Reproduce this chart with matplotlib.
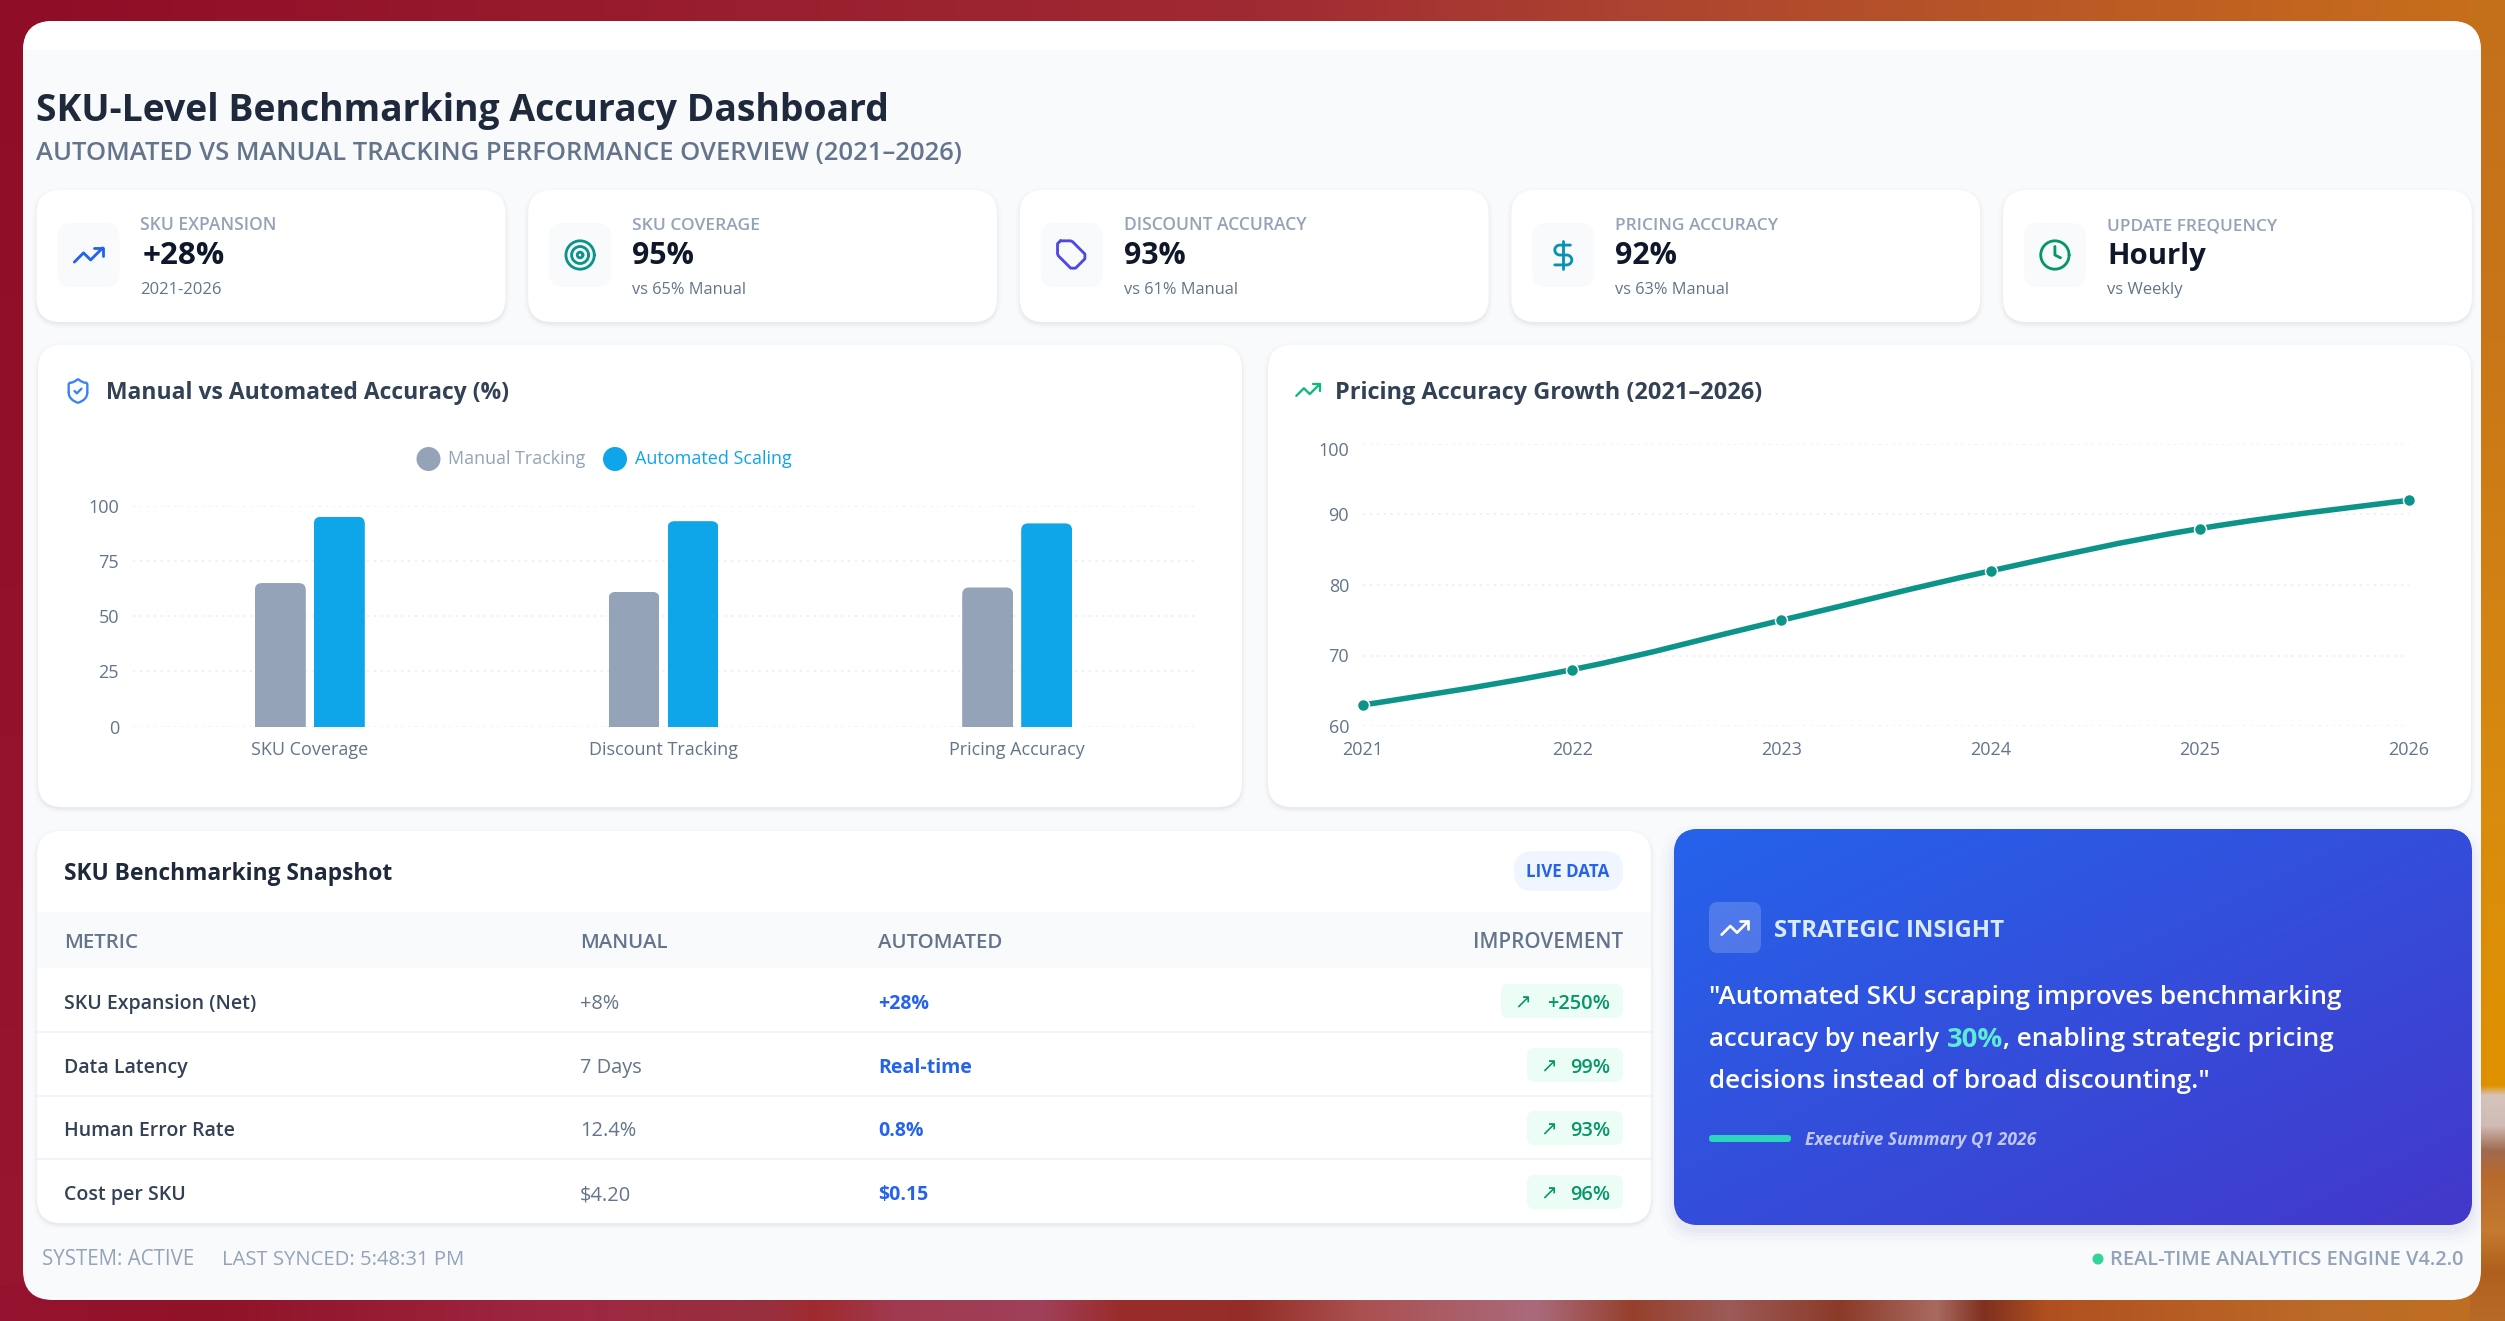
import numpy as np
import matplotlib
matplotlib.use("Agg")
import matplotlib.pyplot as plt
from matplotlib.patches import FancyBboxPatch, Rectangle, Circle, PathPatch
from matplotlib.path import Path
from matplotlib.transforms import IdentityTransform, ScaledTranslation

plt.rcParams['font.family'] = ['Open Sans', 'DejaVu Sans']

# data
categories = ["SKU Coverage", "Discount Tracking", "Pricing Accuracy"]
manual = [65, 61, 63]
automated = [95, 93, 92]
years = [2021, 2022, 2023, 2024, 2025, 2026]
pricing = [63, 68, 75, 82, 88, 92]

kpi_labels = ["SKU EXPANSION", "SKU COVERAGE", "DISCOUNT ACCURACY", "PRICING ACCURACY", "UPDATE FREQUENCY"]
kpi_values = ["+28%", "95%", "93%", "92%", "Hourly"]
kpi_notes = ["2021-2026", "vs 65% Manual", "vs 61% Manual", "vs 63% Manual", "vs Weekly"]
kpi_icons = ["trend", "target", "tag", "dollar", "clock"]
kpi_colors = ["#2563eb", "#0d9488", "#4f46e5", "#0891b2", "#059669"]

table_head = ["METRIC", "MANUAL", "AUTOMATED", "IMPROVEMENT"]
table_metric = ["SKU Expansion (Net)", "Data Latency", "Human Error Rate", "Cost per SKU"]
table_manual = ["+8%", "7 Days", "12.4%", "$4.20"]
table_auto = ["+28%", "Real-time", "0.8%", "$0.15"]
table_gain = ["+250%", "99%", "93%", "96%"]

W, H = 2505, 1321
fig = plt.figure(figsize=(W / 100, H / 100), dpi=100)
ax = fig.add_axes([0, 0, 1, 1], zorder=0)
ax.set_axis_off()


def hexs(cols):
    return np.array([matplotlib.colors.to_rgb(c) for c in cols])


def ramp(stops, cols, n):
    c = hexs(cols)
    return np.stack([np.interp(np.arange(n), stops, c[:, i]) for i in range(3)], axis=1)


# background strips, only the edges show behind the panel
bg = np.zeros((H, W, 3))
bg[:, :] = ramp([0, 1250, 1650, 2505], ["#8f0d27", "#a02a33", "#ad4430", "#c8701a"], W)
bg[:, :40] = ramp([0, 1321], ["#8f0d27", "#971630"], H)[:, None, :]
right = ramp([0, 340, 810, 1085, 1095, 1125, 1150, 1175, 1230, 1270, 1321],
             ["#c4701c", "#c97619", "#d98c0e", "#e09200", "#d6c4bc", "#d0bcb4", "#a06a50", "#b86a2c",
              "#c47a30", "#b0601c", "#b86a28"], H)
bg[:, 2470:] = right[:, None, :]
bottom = ramp(np.array([0, 130, 350, 480, 510, 560, 650, 700, 780, 850, 960, 1020, 1080, 1150, 1210, 1240, 1280, 1450, 1568]) * 1.6,
              ["#96122f", "#901228", "#9e2740", "#98303f", "#a02a2e", "#a03a50", "#a0405a", "#9a2c2c", "#942e28",
               "#aa5050", "#aa6a7c", "#96402c", "#9c5a58", "#8c3a28", "#a86a60", "#80301f", "#b05020", "#bc6a28",
               "#c07020"], W)
bg[1285:, :2470] = bottom[:2470][None, :, :]
ax.imshow(bg, extent=[0, W, H, 0], aspect='auto', zorder=0)
ax.set_xlim(0, W)
ax.set_ylim(H, 0)


def box(x0, y0, x1, y1, r, fc, z=1, **kw):
    p = FancyBboxPatch((x0, y0), x1 - x0, y1 - y0, boxstyle=f"round,pad=0,rounding_size={r}",
                       fc=fc, ec='none', zorder=z, **kw)
    ax.add_patch(p)
    return p


def card(x0, y0, x1, y1, r=24):
    for grow, a in [(4, 0.012), (2, 0.02), (0.5, 0.03)]:
        box(x0 - grow, y0 - grow + 2, x1 + grow, y1 + grow + 2, r + grow, "#1e293b", z=2, alpha=a)
    box(x0, y0, x1, y1, r, "white", z=2)


def txt(x, y, s, px, color, weight='normal', ha='left', w=None, style='normal', z=5):
    t = ax.text(x, y, s, fontsize=px * 0.72, color=color, fontweight=weight, ha=ha, va='baseline',
                fontstyle=style, zorder=z)
    if w is not None:
        have = t.get_window_extent(fig.canvas.get_renderer()).width
        px = px * w / have
        t.set_fontsize(px * 0.72)
    t.set_y(y + 0.36 * px)
    return t


# line icons on a 24 unit grid
def icon_paths(kind):
    C = 0.5523
    def circ(cx, cy, r):
        k = C * r
        return [[(cx + r, cy), (cx + r, cy + k), (cx + k, cy + r), (cx, cy + r), (cx - k, cy + r), (cx - r, cy + k),
                 (cx - r, cy), (cx - r, cy - k), (cx - k, cy - r), (cx, cy - r), (cx + k, cy - r), (cx + r, cy - k),
                 (cx + r, cy)], 'b']
    if kind == "trend":
        return [[[(22, 7), (13.5, 15.5), (8.5, 10.5), (2, 17)], 'l'], [[(16, 7), (22, 7), (22, 13)], 'l']]
    if kind == "target":
        return [circ(12, 12, 10), circ(12, 12, 6), circ(12, 12, 2)]
    if kind == "tag":
        return [[[(4, 2), (11.2, 2), (12.6, 2.6), (21.3, 11.3), (21.3, 14.7), (14.7, 21.3), (11.3, 21.3), (2.6, 12.6),
                  (2, 11.2), (2, 4), (4, 2)], 'l'], [[(7.5, 7.5), (7.6, 7.5)], 'l']]
    if kind == "dollar":
        return [[[(12, 2), (12, 22)], 'l'],
                [[(17, 5), (13, 5), (11, 5), (9.5, 5), (7.6, 5), (6, 6.6), (6, 8.5), (6, 10.4), (7.6, 12), (9.5, 12),
                  (11, 12), (13, 12), (14.5, 12), (16.4, 12), (18, 13.6), (18, 15.5), (18, 17.4), (16.4, 19), (14.5, 19),
                  (12, 19), (9, 19), (6, 19)], 'b']]
    if kind == "clock":
        return [circ(12, 12, 10), [[(12, 6), (12, 12), (16, 14)], 'l']]
    if kind == "shield":
        return [[[(20, 13), (20, 18), (16.5, 20.5), (12.3, 22), (12, 22.1), (11.7, 22), (11.7, 22), (7.5, 20.5), (4, 18), (4, 13)], 'b'],
                [[(4, 13), (4, 6), (5, 5)], 'l'],
                [[(5, 5), (7, 5), (9.5, 3.8), (11.2, 2.3), (11.6, 1.9), (12.4, 1.9), (12.8, 2.3), (14.5, 3.8), (17, 5), (19, 5)], 'b'],
                [[(19, 5), (20, 6), (20, 13)], 'l'],
                [[(9, 12), (11, 14), (15, 10)], 'l']]


def icon(cx, cy, size, kind, color, lw=None, z=5):
    k = size / 24
    lw = lw if lw else 2 * k
    for pts, mode in icon_paths(kind):
        v = [(cx + (a - 12) * k, cy + (b - 12) * k) for a, b in pts]
        if mode == 'l':
            codes = [Path.MOVETO] + [Path.LINETO] * (len(v) - 1)
        else:
            codes = [Path.MOVETO] + [Path.CURVE4] * (len(v) - 1)
        ax.add_patch(PathPatch(Path(v, codes), fc='none', ec=color, lw=lw * 0.72, zorder=z,
                               capstyle='round', joinstyle='round'))


# main panel
panel = box(23, 21, 2481, 1300, 30, "#f8fafc", z=1)
top_band = Rectangle((23, 21), 2458, 29, fc="white", ec='none', zorder=1.1)
ax.add_patch(top_band)
top_band.set_clip_path(panel)

txt(36, 108, "SKU-Level Benchmarking Accuracy Dashboard", 42, "#1e293b", 'bold', w=853)
txt(36, 151, "AUTOMATED VS MANUAL TRACKING PERFORMANCE OVERVIEW (2021–2026)", 24, "#64748b", 'semibold', w=926)

# kpi cards
label_w = [137, 128, 184, 164, 170]
value_w = [82, 62, 62, 62, 99]
note_w = [81, 114, 114, 114, 76]
for i in range(5):
    x0 = 36.5 + i * 491.6
    card(x0, 190, x0 + 469, 322)
    box(x0 + 21, 223, x0 + 83, 287, 14, "#f8fafc", z=3)
    icon(x0 + 52, 255, 34, kpi_icons[i], kpi_colors[i])
    txt(x0 + 104, 224, kpi_labels[i], 16, "#94a3b8", 'semibold', w=label_w[i])
    txt(x0 + (106 if i == 0 else 104), 253, kpi_values[i], 32, "#0f172a", 'bold', w=value_w[i])
    txt(x0 + 104, 288, kpi_notes[i], 16, "#64748b", w=note_w[i])

# chart cards
card(38, 345, 1242, 807)
card(1268, 345, 2471, 807)
icon(78, 391, 28, "shield", "#3b82f6")
txt(106, 391, "Manual vs Automated Accuracy (%)", 22, "#334155", 'bold', w=404)
icon(1308, 390, 28, "trend", "#10b981")
txt(1335, 391, "Pricing Accuracy Growth (2021–2026)", 22, "#334155", 'bold', w=427)

ax.add_patch(Circle((428.5, 459), 12, fc="#94a3b8", ec='none', zorder=5))
txt(448, 458, "Manual Tracking", 17.5, "#94a3b8", w=137)
ax.add_patch(Circle((615, 459), 12, fc="#0ea5e9", ec='none', zorder=5))
txt(635, 458, "Automated Scaling", 17.5, "#0ea5e9", w=157)


def chart_axes(x0, y0, x1, y1):
    a = fig.add_axes([x0 / W, 1 - y1 / H, (x1 - x0) / W, (y1 - y0) / H], zorder=2)
    a.patch.set_alpha(0)
    for s in a.spines.values():
        s.set_visible(False)
    a.grid(axis='y', color="#e9edf2", lw=1.1, ls=(0, (1.5, 3)))
    a.set_axisbelow(True)
    a.tick_params(length=0, labelsize=18 * 0.72, labelcolor="#64748b")
    a.tick_params(axis='x', pad=10.5)
    a.tick_params(axis='y', pad=10)
    return a


# bars
ax1 = chart_axes(133, 505.7, 1194, 726.7)
pos = np.arange(len(categories))
bw = 0.144
off = 0.0834
b1 = ax1.bar(pos - off, manual, bw, color="#94a3b8")
b2 = ax1.bar(pos + off, automated, bw, color="#0ea5e9")
ax1.set_xlim(-0.5, 2.5)
ax1.set_ylim(0, 100)
ax1.set_yticks([0, 25, 50, 75, 100])
ax1.set_xticks(pos)
ax1.set_xticklabels(categories)
for b in list(b1) + list(b2):
    e = b.get_window_extent()
    cp = FancyBboxPatch((e.x0, e.y0 - 20), e.width, e.height + 20, boxstyle="round,pad=0,rounding_size=7",
                        transform=IdentityTransform())
    b.set_clip_path(cp)

# line
ax2 = chart_axes(1363, 444, 2409, 726)
ax2.set_xlim(2021, 2026)
ax2.set_ylim(60, 100)
ax2.set_xticks(years)
ax2.set_yticks([60, 70, 80, 90, 100])
x = np.array(years, dtype=float)
y = np.array(pricing, dtype=float)
verts = [(x[0], y[0])]
codes = [Path.MOVETO]
for i in range(len(x) - 1):
    t0 = (x[i + 1] - x[max(i - 1, 0)], y[i + 1] - y[max(i - 1, 0)]) if i > 0 else (0, 0)
    t1 = (x[min(i + 2, len(x) - 1)] - x[i], y[min(i + 2, len(x) - 1)] - y[i]) if i < len(x) - 2 else (0, 0)
    verts += [(x[i] + 0.2 * t0[0], y[i] + 0.2 * t0[1]), (x[i + 1] - 0.2 * t1[0], y[i + 1] - 0.2 * t1[1]), (x[i + 1], y[i + 1])]
    codes += [Path.CURVE4] * 3
ax2.add_patch(PathPatch(Path(verts, codes), fc='none', ec="#0d9488", lw=5.5 * 0.72, clip_on=False, zorder=3))
ax2.plot(years, pricing, ls='none', marker='o', ms=12 * 0.72, mfc="#0d9488", mec="white", mew=1.5 * 0.72,
         clip_on=False, zorder=4)
top_lab = ax2.get_yticklabels()[-1]
top_lab.set_transform(top_lab.get_transform() + ScaledTranslation(0, -5 / 72 * 0.72, fig.dpi_scale_trans))

# table
card(37, 831, 1651, 1223)
txt(64, 872, "SKU Benchmarking Snapshot", 22, "#1e293b", 'bold', w=330)
box(1514, 851, 1623, 891, 19, "#eff6ff", z=3)
txt(1568, 871, "LIVE DATA", 15, "#2563eb", 'bold', ha='center', w=84)
ax.add_patch(Rectangle((37, 912), 1614, 56, fc="#f8fafc", ec='none', zorder=3))
col_x = [64, 580, 878, 1623]
head_w = [74, 88, 124, 150]
for j, name in enumerate(table_head):
    txt(col_x[j], 941, name, 17.5, "#64748b", 'semibold', ha='right' if j == 3 else 'left', w=head_w[j])
row_y = [1002, 1066, 1129, 1193]
for i in range(4):
    yy = row_y[i]
    txt(col_x[0], yy, table_metric[i], 19.5, "#334155", 'semibold')
    txt(col_x[1], yy, table_manual[i], 20, "#64748b")
    txt(col_x[2], yy, table_auto[i], 19.5, "#2563eb", 'bold')
    left = 1501 if i == 0 else 1527
    box(left, yy - 18, 1623, yy + 16, 8, "#ecfdf5", z=3)
    txt(1610, yy, table_gain[i], 20, "#059669", 'semibold', ha='right')
    txt(left + 22, yy - 1, "↗", 20, "#059669", ha='center')
    if i < 3:
        ax.add_patch(Rectangle((37, yy + 28.5), 1614, 2, fc="#f1f5f9", ec='none', zorder=3))

# insight card
for grow, a in [(14, 0.01), (9, 0.015), (5, 0.02), (2, 0.03)]:
    box(1674 - grow, 829 - grow + 10, 2472 + grow, 1225 + grow + 6, 25 + grow, "#3730a3", z=2, alpha=a)
blue = box(1674, 829, 2472, 1225, 25, "#3b44d0", z=2)
gx, gy = np.meshgrid(np.linspace(0, 1, 200), np.linspace(0, 1, 100))
g = np.clip((gx * 0.5 + gy * 0.5), 0, 1)[..., None]
c0, c1 = hexs(["#2563eb"])[0], hexs(["#4338ca"])[0]
im = ax.imshow(c0 * (1 - g) + c1 * g, extent=[1674, 2472, 1225, 829], aspect='auto', zorder=2.1)
im.set_clip_path(blue)
ax.set_xlim(0, W)
ax.set_ylim(H, 0)
box(1709, 902, 1761, 953, 9, "white", z=3, alpha=0.18)
icon(1735, 928, 32, "trend", "white")
txt(1774, 928, "STRATEGIC INSIGHT", 20, "#dbeafe", 'bold', w=230)
txt(1709, 995, '"Automated SKU scraping improves benchmarking', 28, "white", 'semibold', w=635)
txt(1709, 1037, "accuracy by nearly", 26, "white", 'semibold', w=230)
txt(1947, 1037, "30%", 26, "#5eead4", 'bold', w=56)
txt(2003, 1037, ", enabling strategic pricing", 26, "white", 'semibold', w=331)
txt(1709, 1079, 'decisions instead of broad discounting."', 26, "white", 'semibold', w=501)
box(1709, 1135, 1791, 1142, 3, "#2dd4bf", z=5)
txt(1805, 1139, "Executive Summary Q1 2026", 16, "#bfc8f5", 'bold', style='italic', w=231)

# footer
txt(42, 1258, "SYSTEM: ACTIVE", 16, "#94a3b8", w=152)
txt(222, 1258, "LAST SYNCED: 5:48:31 PM", 16, "#94a3b8", w=241)
ax.add_patch(Circle((2098, 1259), 5.5, fc="#34d399", ec='none', zorder=5))
txt(2110, 1258, "REAL-TIME ANALYTICS ENGINE V4.2.0", 16, "#94a3b8", 'semibold', w=354)

fig.savefig("out.png", dpi=100)
